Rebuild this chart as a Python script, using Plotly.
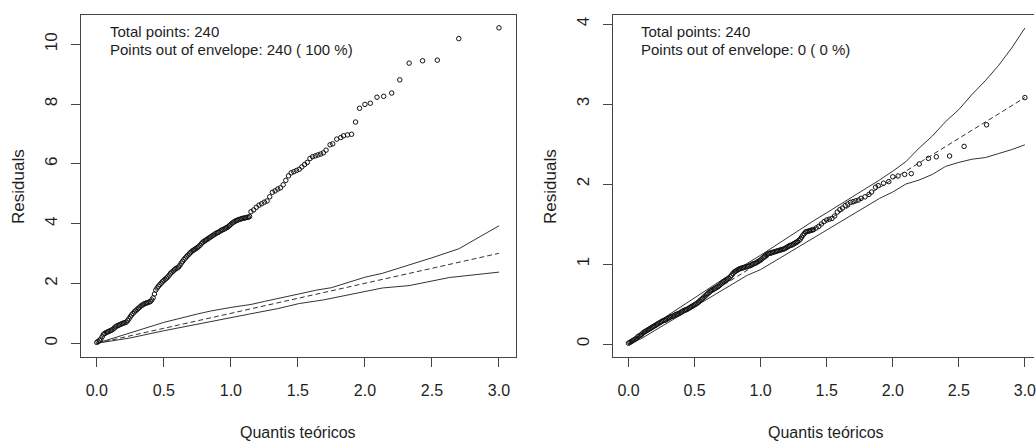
import plotly.graph_objects as go

# ---------------- data ----------------
left_pts_x = [
    0.00, 0.01, 0.02, 0.03, 0.04, 0.05, 0.06, 0.07, 0.08, 0.09, 0.10, 0.11, 0.12, 0.13, 0.14, 0.15, 0.16, 0.17, 0.18, 0.19,
    0.20, 0.21, 0.22, 0.23, 0.24, 0.25, 0.26, 0.27, 0.28, 0.29, 0.30, 0.31, 0.32, 0.33, 0.34, 0.35, 0.36, 0.37, 0.38, 0.39,
    0.40, 0.41, 0.42, 0.43, 0.44, 0.45, 0.46, 0.47, 0.48, 0.49, 0.50, 0.51, 0.52, 0.53, 0.54, 0.55, 0.56, 0.57, 0.58, 0.59,
    0.60, 0.61, 0.62, 0.63, 0.64, 0.65, 0.66, 0.67, 0.68, 0.69, 0.70, 0.71, 0.72, 0.73, 0.74, 0.75, 0.76, 0.77, 0.78, 0.79,
    0.80, 0.81, 0.82, 0.83, 0.84, 0.85, 0.86, 0.87, 0.88, 0.89, 0.90, 0.91, 0.92, 0.93, 0.94, 0.95, 0.96, 0.97, 0.98, 0.99,
    1.00, 1.01, 1.02, 1.03, 1.04, 1.05, 1.06, 1.07, 1.08, 1.09, 1.10, 1.11, 1.12, 1.13, 1.14,
    1.15, 1.17, 1.19, 1.21, 1.23, 1.25, 1.27, 1.29, 1.31, 1.33, 1.35, 1.37, 1.39, 1.41, 1.43, 1.45,
    1.47, 1.49, 1.51, 1.53, 1.55, 1.57, 1.59, 1.61, 1.63, 1.65, 1.67, 1.69, 1.71,
    1.74, 1.76, 1.79, 1.82, 1.84, 1.87, 1.90, 1.93, 1.96, 2.00, 2.04, 2.09, 2.14, 2.20, 2.26, 2.33,
    2.43, 2.54, 2.70, 3.00]
left_pts_y = [
    0.03, 0.06, 0.10, 0.14, 0.22, 0.30, 0.33, 0.36, 0.38, 0.40, 0.42, 0.44, 0.47, 0.51, 0.55, 0.58, 0.60, 0.62, 0.64, 0.66,
    0.68, 0.69, 0.71, 0.76, 0.82, 0.89, 0.95, 1.00, 1.05, 1.09, 1.13, 1.17, 1.21, 1.25, 1.28, 1.31, 1.33, 1.35, 1.36, 1.38,
    1.40, 1.45, 1.52, 1.65, 1.78, 1.85, 1.91, 1.96, 2.01, 2.06, 2.10, 2.14, 2.18, 2.22, 2.28, 2.34, 2.38, 2.42, 2.46, 2.50,
    2.52, 2.55, 2.61, 2.68, 2.74, 2.80, 2.85, 2.90, 2.95, 2.99, 3.04, 3.08, 3.11, 3.14, 3.17, 3.20, 3.24, 3.28, 3.33, 3.38,
    3.41, 3.44, 3.47, 3.50, 3.53, 3.56, 3.59, 3.62, 3.65, 3.68, 3.70, 3.72, 3.75, 3.78, 3.80, 3.82, 3.85, 3.87, 3.90, 3.94,
    3.98, 4.02, 4.05, 4.08, 4.10, 4.12, 4.14, 4.15, 4.17, 4.18, 4.19, 4.20, 4.21, 4.22, 4.24,
    4.40, 4.46, 4.55, 4.62, 4.67, 4.72, 4.76, 4.90, 5.05, 5.10, 5.16, 5.20, 5.30, 5.45, 5.60, 5.70,
    5.74, 5.78, 5.82, 5.90, 5.98, 6.05, 6.18, 6.24, 6.27, 6.30, 6.33, 6.37, 6.46,
    6.64, 6.67, 6.83, 6.88, 6.94, 6.97, 6.99, 7.40, 7.86, 7.99, 8.03, 8.23, 8.26, 8.37, 8.81, 9.37,
    9.45, 9.47, 10.19, 10.55]

left_upper_x = [0, 0.1, 0.25, 0.5, 0.75, 0.85, 1.0, 1.15, 1.25, 1.5, 1.64, 1.75, 1.81, 2.0, 2.13, 2.26, 2.5, 2.7, 3.0]
left_upper_y = [0, 0.14, 0.36, 0.70, 0.98, 1.08, 1.20, 1.30, 1.40, 1.65, 1.78, 1.86, 1.95, 2.21, 2.34, 2.52, 2.86, 3.16, 3.93]
left_median_x = [0, 0.5, 1.0, 1.5, 2.0, 2.5, 3.0]
left_median_y = [0, 0.50, 1.00, 1.50, 2.00, 2.50, 3.01]
left_lower_x = [0, 0.25, 0.5, 0.75, 1.0, 1.14, 1.35, 1.51, 1.69, 1.88, 2.0, 2.13, 2.33, 2.63, 3.0]
left_lower_y = [0, 0.18, 0.42, 0.63, 0.86, 0.98, 1.16, 1.33, 1.45, 1.62, 1.72, 1.85, 1.93, 2.20, 2.38]

right_pts_x = [
    0.00, 0.01, 0.02, 0.03, 0.04, 0.05, 0.06, 0.07, 0.08, 0.09, 0.10, 0.11, 0.12, 0.13, 0.14, 0.15, 0.16, 0.17, 0.18, 0.19,
    0.20, 0.21, 0.22, 0.23, 0.24, 0.25, 0.26, 0.27, 0.28, 0.29, 0.30, 0.31, 0.32, 0.33, 0.34, 0.35, 0.36, 0.37, 0.38, 0.39,
    0.40, 0.41, 0.42, 0.43, 0.44, 0.45, 0.46, 0.47, 0.48, 0.49, 0.50, 0.51, 0.52, 0.53, 0.54, 0.55, 0.56, 0.57, 0.58, 0.59,
    0.60, 0.61, 0.62, 0.63, 0.64, 0.65, 0.66, 0.67, 0.68, 0.69, 0.70, 0.71, 0.72, 0.73, 0.74, 0.75, 0.76, 0.77, 0.78, 0.79,
    0.80, 0.81, 0.82, 0.83, 0.84, 0.85, 0.86, 0.87, 0.88, 0.89, 0.90, 0.91, 0.92, 0.93, 0.94, 0.95, 0.96, 0.97, 0.98, 0.99,
    1.00, 1.01, 1.02, 1.03, 1.04, 1.05, 1.06, 1.07, 1.08, 1.09, 1.10, 1.11, 1.12, 1.13, 1.14, 1.15, 1.16, 1.17, 1.18, 1.19,
    1.20, 1.21, 1.22, 1.23, 1.24, 1.25, 1.26, 1.27, 1.28, 1.29, 1.30, 1.31, 1.32, 1.33, 1.34, 1.35, 1.36, 1.37, 1.38, 1.39,
    1.40, 1.42, 1.44, 1.46, 1.48, 1.50, 1.52, 1.54, 1.56, 1.58, 1.60, 1.62, 1.64, 1.66, 1.68, 1.70, 1.72, 1.74, 1.76,
    1.79, 1.82, 1.84, 1.87, 1.89, 1.93, 1.97, 2.00, 2.04, 2.09, 2.14, 2.20, 2.27, 2.33, 2.43, 2.54, 2.71, 3.00]
right_pts_y = [
    0.01, 0.02, 0.03, 0.04, 0.05, 0.06, 0.07, 0.09, 0.10, 0.11, 0.12, 0.14, 0.15, 0.16, 0.17, 0.18, 0.19, 0.20, 0.21, 0.22,
    0.23, 0.24, 0.25, 0.26, 0.27, 0.28, 0.29, 0.295, 0.30, 0.31, 0.32, 0.33, 0.34, 0.345, 0.35, 0.36, 0.37, 0.375, 0.38, 0.39,
    0.40, 0.41, 0.42, 0.425, 0.43, 0.44, 0.45, 0.46, 0.47, 0.48, 0.49, 0.50, 0.51, 0.525, 0.54, 0.555, 0.57, 0.585, 0.60, 0.615,
    0.63, 0.645, 0.66, 0.67, 0.68, 0.69, 0.70, 0.71, 0.72, 0.735, 0.75, 0.765, 0.78, 0.79, 0.80, 0.81, 0.82, 0.84, 0.86, 0.88,
    0.90, 0.91, 0.92, 0.93, 0.94, 0.945, 0.95, 0.955, 0.96, 0.965, 0.97, 0.975, 0.98, 0.99, 1.00, 1.005, 1.01, 1.02, 1.03, 1.04,
    1.05, 1.065, 1.08, 1.095, 1.11, 1.12, 1.13, 1.135, 1.14, 1.145, 1.15, 1.155, 1.16, 1.165, 1.17, 1.175, 1.18, 1.185, 1.19, 1.20,
    1.21, 1.22, 1.23, 1.235, 1.24, 1.25, 1.26, 1.27, 1.28, 1.295, 1.31, 1.335, 1.36, 1.38, 1.40, 1.405, 1.41, 1.415, 1.42, 1.425,
    1.43, 1.45, 1.47, 1.50, 1.53, 1.55, 1.56, 1.57, 1.60, 1.65, 1.68, 1.70, 1.73, 1.75, 1.77, 1.78, 1.79, 1.80, 1.82,
    1.84, 1.87, 1.90, 1.96, 1.98, 2.01, 2.03, 2.09, 2.10, 2.12, 2.13, 2.25, 2.32, 2.34, 2.35, 2.47, 2.74, 3.08]

right_env_x = [0, 0.1, 0.2, 0.3, 0.4, 0.5, 0.6, 0.7, 0.8, 0.9, 1.0, 1.1, 1.2, 1.3, 1.4, 1.5, 1.6, 1.7, 1.8, 1.9,
               2.0, 2.1, 2.2, 2.3, 2.4, 2.5, 2.6, 2.7, 2.8, 2.9, 3.0]
right_upper_y = [0, 0.13, 0.25, 0.36, 0.47, 0.58, 0.68, 0.79, 0.90, 1.01, 1.11, 1.22, 1.32, 1.43, 1.54, 1.64,
                 1.74, 1.85, 1.95, 2.05, 2.16, 2.28, 2.45, 2.60, 2.78, 2.93, 3.12, 3.29, 3.48, 3.70, 3.95]
right_lower_y = [0, 0.07, 0.17, 0.27, 0.37, 0.46, 0.56, 0.66, 0.76, 0.86, 0.93, 1.03, 1.13, 1.23, 1.32, 1.42,
                 1.52, 1.62, 1.72, 1.82, 1.90, 2.00, 2.05, 2.12, 2.22, 2.27, 2.31, 2.33, 2.38, 2.43, 2.49]
right_median_x = [0, 0.5, 1.0, 1.5, 2.0, 2.5, 3.0]
right_median_y = [0, 0.51, 1.03, 1.54, 2.06, 2.57, 3.08]

x_tick_vals = [0, 0.5, 1.0, 1.5, 2.0, 2.5, 3.0]
x_tick_text = ["0.0", "0.5", "1.0", "1.5", "2.0", "2.5", "3.0"]
left_y_ticks = [0, 2, 4, 6, 8, 10]
right_y_ticks = [0, 1, 2, 3, 4]

x_title = "Quantis teóricos"
y_title = "Residuals"
left_text = ["Total points: 240", "Points out of envelope: 240 ( 100 %)"]
right_text = ["Total points: 240", "Points out of envelope: 0 ( 0 %)"]

# ---------------- figure ----------------
W, H = 1036, 441
FONT = "Liberation Sans, Arial, sans-serif"
INK = "#1e1e1e"
FRAME = "#444444"


def px(xp):
    return xp / W


def py(yp):
    return 1 - yp / H


fig = go.Figure()

panels = [
    dict(xa="x", ya="y", px_=left_pts_x, py_=left_pts_y,
         lines=[(left_upper_x, left_upper_y, "solid"), (left_median_x, left_median_y, "5px,3px"),
                (left_lower_x, left_lower_y, "solid")]),
    dict(xa="x2", ya="y2", px_=right_pts_x, py_=right_pts_y,
         lines=[(right_env_x, right_upper_y, "solid"), (right_median_x, right_median_y, "5px,3px"),
                (right_env_x, right_lower_y, "solid")]),
]

for p in panels:
    for lx, ly, dash in p["lines"]:
        fig.add_trace(go.Scatter(x=lx, y=ly, mode="lines", xaxis=p["xa"], yaxis=p["ya"],
                                 line=dict(color="#333333", width=1, dash=dash),
                                 showlegend=False, hoverinfo="skip"))
    fig.add_trace(go.Scatter(x=p["px_"], y=p["py_"], mode="markers", xaxis=p["xa"], yaxis=p["ya"],
                             marker=dict(symbol="circle-open", size=4.5, color="#111111",
                                         line=dict(width=1, color="#111111")),
                             showlegend=False))

ydom = [py(357), py(15)]
common_x = dict(tickmode="array", tickvals=x_tick_vals, ticktext=x_tick_text, ticks="outside",
                ticklen=9, tickcolor=FRAME, showgrid=False, zeroline=False, showline=True,
                linecolor=FRAME, linewidth=1, ticklabelstandoff=10, ticklabeloverflow="allow",
                tickfont=dict(family=FONT, size=16, color=INK))
common_y = dict(tickmode="array", ticks="outside", ticklen=9, tickcolor=FRAME, showgrid=False,
                zeroline=False, showline=True, linecolor=FRAME, linewidth=1, tickangle=-90,
                ticklabelstandoff=7, tickfont=dict(family=FONT, size=17, color=INK))

fig.update_layout(
    width=W, height=H, margin=dict(l=0, r=0, t=0, b=0),
    paper_bgcolor="white", plot_bgcolor="white", showlegend=False,
    xaxis=dict(domain=[px(81), px(517)], range=[-0.119, 3.127], anchor="y", mirror=True, **common_x),
    yaxis=dict(domain=ydom, range=[-0.458, 10.98], anchor="x", mirror=True,
               tickvals=left_y_ticks, ticktext=[str(v) for v in left_y_ticks], **common_y),
    xaxis2=dict(domain=[px(613.7), 1.0], range=[-0.121, 3.069], anchor="y2", mirror=True, **common_x),
    yaxis2=dict(domain=ydom, range=[-0.1625, 4.1125], anchor="x2", mirror=False,
                tickvals=right_y_ticks, ticktext=[str(v) for v in right_y_ticks], **common_y),
)

annos = []
for xpix, lines in [(108, left_text), (640.5, right_text)]:
    for i, t in enumerate(lines):
        annos.append(dict(x=px(xpix), y=py(31.5 + 17.5 * i), xref="paper", yref="paper", text=t,
                          showarrow=False, xanchor="left", yanchor="middle",
                          font=dict(family=FONT, size=15, color=INK)))
for xc in [299, 828]:
    annos.append(dict(x=px(xc), y=py(432), xref="paper", yref="paper", text=x_title, showarrow=False,
                      xanchor="center", yanchor="middle", font=dict(family=FONT, size=16, color=INK)))
for xc in [18, 551]:
    annos.append(dict(x=px(xc), y=py(186), xref="paper", yref="paper", text=y_title, showarrow=False,
                      textangle=-90, xanchor="center", yanchor="middle",
                      font=dict(family=FONT, size=17, color=INK)))
fig.update_layout(annotations=annos)

fig.write_html("out.html")
